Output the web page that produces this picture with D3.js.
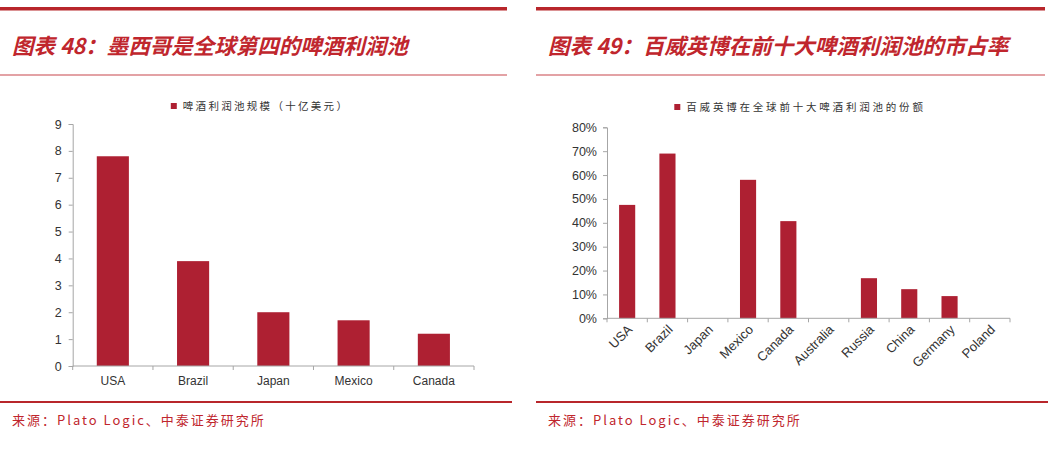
<!DOCTYPE html>
<html><head><meta charset="utf-8">
<script src="https://cdn.jsdelivr.net/npm/d3@7"></script>
<style>
html,body{margin:0;padding:0;background:#fff;}
svg{display:block;}
</style></head>
<body>
<svg id="c" width="1056" height="450"></svg>
<script>
// Chart 48 data
const cats48 = ["USA","Brazil","Japan","Mexico","Canada"];
const vals48 = [7.8, 3.9, 2.0, 1.7, 1.2];
const ticks48 = [0,1,2,3,4,5,6,7,8,9];
const title48 = "图表 48：墨西哥是全球第四的啤酒利润池";
const legend48 = "啤酒利润池规模（十亿美元）";
// Chart 49 data
const cats49 = ["USA","Brazil","Japan","Mexico","Canada","Australia","Russia","China","Germany","Poland"];
const vals49 = [0.475, 0.69, 0, 0.58, 0.407, 0, 0.168, 0.122, 0.093, 0];
const ticks49 = [0,0.1,0.2,0.3,0.4,0.5,0.6,0.7,0.8];
const title49 = "图表 49：百威英博在前十大啤酒利润池的市占率";
const legend49 = "百威英博在全球前十大啤酒利润池的份额";
const source = "来源：Plato Logic、中泰证券研究所";

const RED = "#c0262d", BAR = "#ae2032", AX = "#a6a6a6";
const svg = d3.select("#c");
const latin = "'Liberation Sans', Arial, sans-serif";
const cjk = "'Noto Sans CJK SC', sans-serif";

function frame(x0, x1, tx, title, sx, bx1) {
  svg.append("rect").attr("x", x0).attr("y", 7).attr("width", x1 - x0).attr("height", 3.5).attr("fill", "#b8262b");
  svg.append("text").attr("x", tx).attr("y", 54).text(title)
    .attr("font-family", cjk).attr("font-weight", "bold").attr("font-style", "italic")
    .attr("font-size", 21.5).attr("fill", RED);
  svg.append("rect").attr("x", x0).attr("y", 74.5).attr("width", x1 - x0).attr("height", 1).attr("fill", "#c8474c");
  svg.append("rect").attr("x", x0).attr("y", 401).attr("width", bx1 - x0).attr("height", 2).attr("fill", "#b8262b");
  svg.append("text").attr("x", sx).attr("y", 425).text(source)
    .attr("font-family", cjk).attr("font-size", 13).attr("letter-spacing", 2).attr("fill", RED);
}
frame(0, 507, 12, title48, 12, 512);
frame(536, 1045, 548, title49, 548, 1048);

function legend(cx, y, txt, spacing) {
  const g = svg.append("g");
  const t = g.append("text").attr("x", cx).attr("y", y + 4).text(txt)
    .attr("font-family", cjk).attr("font-size", 10.5).attr("letter-spacing", spacing).attr("fill", "#333");
  const w = t.node().getComputedTextLength();
  t.attr("x", cx - w / 2 + 6);
  g.append("rect").attr("x", cx - w / 2 - 6).attr("y", y - 3).attr("width", 6).attr("height", 6).attr("fill", BAR);
}
legend(260, 106, legend48, 2.3);
legend(800, 107, legend49, 2.8);

// Chart 48
{
  const x = d3.scaleBand().domain(cats48).range([72.7, 474]).paddingInner(0.6).paddingOuter(0.3);
  const y = d3.scaleLinear().domain([0, 9]).range([366, 124]);
  const g = svg.append("g");
  g.selectAll("rect.bar").data(cats48).join("rect").attr("class", "bar")
    .attr("x", d => x(d)).attr("width", x.bandwidth())
    .attr("y", (d, i) => y(vals48[i])).attr("height", (d, i) => y(0) - y(vals48[i]))
    .attr("fill", BAR);
  const ya = g.append("g").attr("transform", "translate(72.7,0)")
    .call(d3.axisLeft(y).tickValues(ticks48).tickFormat(d3.format("d")).tickSize(4).tickPadding(7));
  const step = x.step();
  const xb = cats48.map(c => x(c) - step * 0.3).concat([474]);
  const xa = g.append("g");
  xa.append("line").attr("x1", 72.7).attr("x2", 474).attr("y1", 366).attr("y2", 366).attr("stroke", AX);
  xa.selectAll("line.t").data(xb).join("line").attr("class", "t")
    .attr("x1", d => d).attr("x2", d => d).attr("y1", 366).attr("y2", 370).attr("stroke", AX);
  xa.selectAll("text").data(cats48).join("text")
    .attr("x", d => x(d) + x.bandwidth() / 2).attr("y", 385).attr("text-anchor", "middle").text(d => d)
    .attr("font-family", latin).attr("font-size", 12).attr("fill", "#333");
  ya.select(".domain").attr("stroke", AX);
  ya.selectAll(".tick line").attr("stroke", AX);
  ya.selectAll(".tick text").attr("font-family", latin).attr("font-size", 12.5).attr("fill", "#333");
}

// Chart 49
{
  const x0 = 607, x1 = 1010, yb = 318.3;
  const x = d3.scaleBand().domain(cats49).range([x0, x1]).paddingInner(0.6).paddingOuter(0.3);
  const y = d3.scaleLinear().domain([0, 0.8]).range([yb, 127.3]);
  const g = svg.append("g");
  g.selectAll("rect.bar").data(cats49).join("rect").attr("class", "bar")
    .attr("x", d => x(d)).attr("width", x.bandwidth())
    .attr("y", (d, i) => y(vals49[i])).attr("height", (d, i) => y(0) - y(vals49[i]))
    .attr("fill", BAR);
  const ya = g.append("g").attr("transform", `translate(${x0},0)`)
    .call(d3.axisLeft(y).tickValues(ticks49).tickFormat(d3.format(".0%")).tickSize(4).tickPadding(6));
  ya.select(".domain").attr("stroke", AX);
  ya.selectAll(".tick line").attr("stroke", AX);
  ya.selectAll(".tick text").attr("font-family", latin).attr("font-size", 12.5).attr("fill", "#333");
  const step = x.step();
  const xb = cats49.map(c => x(c) - step * 0.3).concat([x1]);
  const xa = g.append("g");
  xa.append("line").attr("x1", x0).attr("x2", x1).attr("y1", yb).attr("y2", yb).attr("stroke", AX);
  xa.selectAll("line.t").data(xb).join("line").attr("class", "t")
    .attr("x1", d => d).attr("x2", d => d).attr("y1", yb).attr("y2", yb + 4).attr("stroke", AX);
  xa.selectAll("text").data(cats49).join("text")
    .attr("transform", d => `translate(${x(d) + x.bandwidth() / 2 + 6},${yb + 12}) rotate(-45)`)
    .attr("text-anchor", "end").text(d => d)
    .attr("font-family", latin).attr("font-size", 13).attr("fill", "#333");
}
</script>
</body></html>
